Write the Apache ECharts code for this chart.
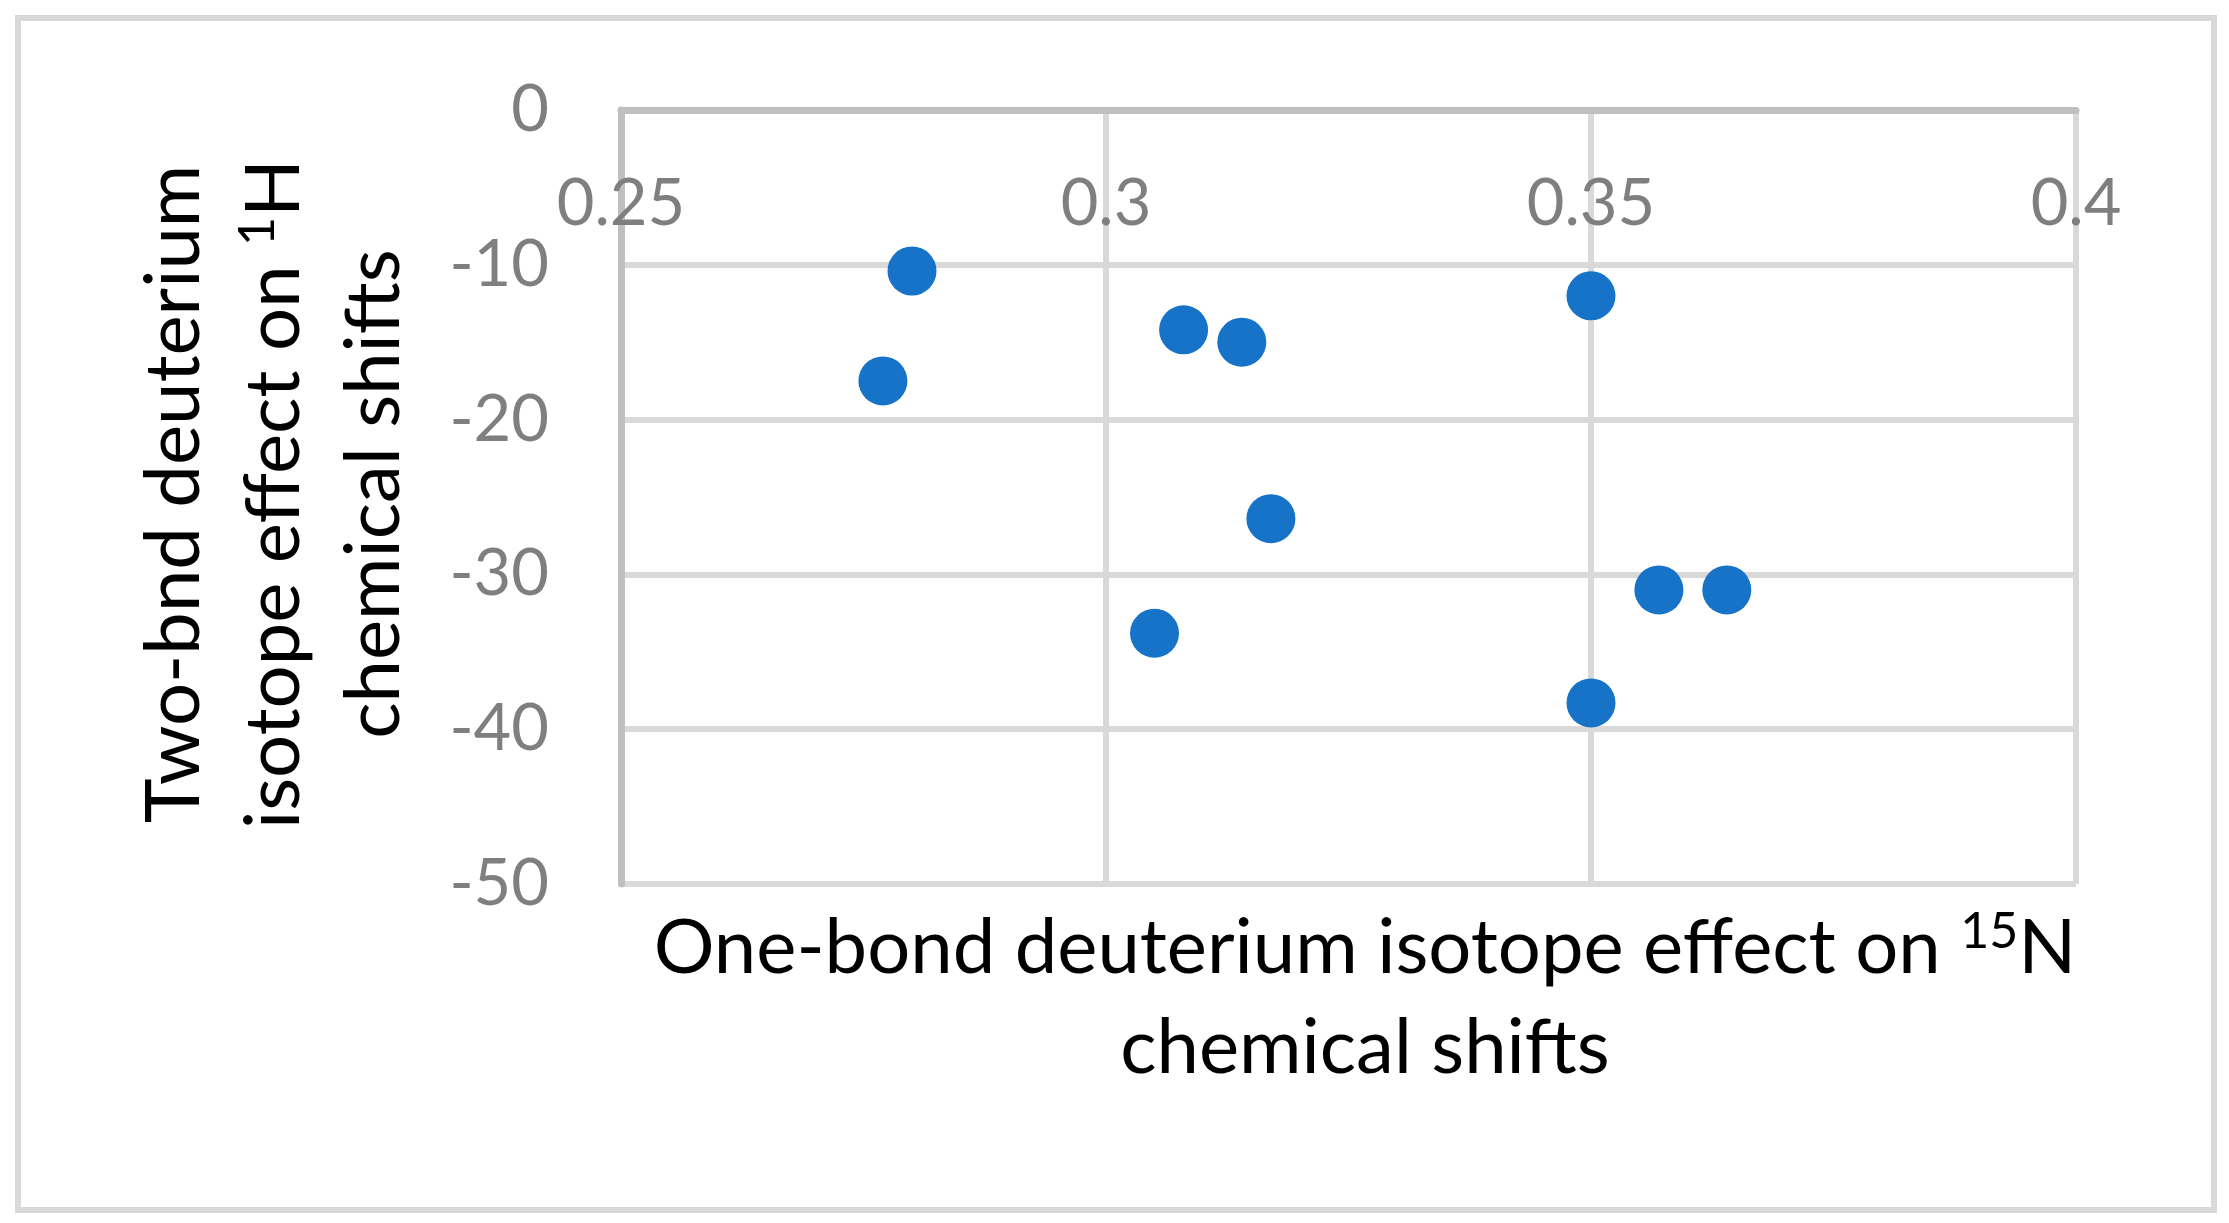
<!DOCTYPE html>
<html>
<head>
<meta charset="utf-8">
<script src="https://cdn.jsdelivr.net/npm/echarts@6/dist/echarts.min.js"></script>
<style>
  body { margin: 0; background: #fff; }
  #chart { width: 2229px; height: 1223px; }
</style>
</head>
<body>
<div id="chart"></div>
<script>
// One-bond 15N isotope effect (x) vs two-bond 1H isotope effect (y)
var xValues = [0.277, 0.280, 0.305, 0.308, 0.314, 0.317, 0.350, 0.350, 0.357, 0.364];
var yValues = [-17.5, -10.4, -33.8, -14.2, -15.0, -26.4, -12.0, -38.3, -31.0, -31.0];
var xTitle = ['One-bond deuterium isotope effect on ', '15', 'N', 'chemical shifts'];
var yTitle = ['Two-bnd deuterium', 'isotope effect on ', '1', 'H', 'chemical shifts'];

var points = [];
for (var i = 0; i < xValues.length; i++) {
    points.push([xValues[i], yValues[i]]);
}

var font = 'Lato';
var grey = '#7F7F7F';

function titleRich() {
    return {
        a: { fontFamily: font, fontSize: 76, lineHeight: 100, color: grey },
        s: { fontFamily: font, fontSize: 50, lineHeight: 50, color: grey,
             verticalAlign: 'top', padding: [9, 0, 0, 0] }
    };
}

var myChart = echarts.init(document.getElementById('chart'));

var option = {
    animation: false,
    backgroundColor: '#fff',
    grid: { left: 621, right: 153, top: 110, bottom: 339 },
    xAxis: {
        type: 'value',
        position: 'top',   // the x axis sits on y = 0, labels hang below it
        min: 0.25,
        max: 0.4,
        interval: 0.05,
        axisLine: { show: true, onZero: false, lineStyle: { color: '#BFBFBF', width: 7 } },
        axisTick: { show: false },
        axisLabel: { inside: true, color: grey, fontFamily: font, fontSize: 65, margin: 62 },
        splitLine: { show: true, lineStyle: { color: '#D9D9D9', width: 6 } }
    },
    yAxis: {
        type: 'value',
        min: -50,
        max: 0,
        interval: 10,
        axisLine: { show: true, onZero: false, lineStyle: { color: '#BFBFBF', width: 7 } },
        axisTick: { show: false },
        axisLabel: { color: grey, fontFamily: font, fontSize: 65, margin: 72 },
        splitLine: { show: true, lineStyle: { color: '#D9D9D9', width: 6 } }
    },
    series: [{
        type: 'scatter',
        data: points,
        symbol: 'circle',
        symbolSize: 49,
        itemStyle: { color: '#1773C8', opacity: 1 }
    }],
    graphic: [
        {   // chart border
            type: 'rect',
            shape: { x: 18, y: 18, width: 2196, height: 1192 },
            style: { fill: null, stroke: '#D9D9D9', lineWidth: 6 },
            silent: true
        },
        {   // x axis title
            type: 'text',
            x: 1365,
            y: 998,
            style: {
                text: '{a|' + xTitle[0] + '}{s|' + xTitle[1] + '}{a|' + xTitle[2] + '}\n{a|' + xTitle[3] + '}',
                align: 'center',
                verticalAlign: 'middle',
                rich: titleRich()
            }
        },
        {   // y axis title
            type: 'text',
            x: 274,
            y: 494,
            rotation: Math.PI / 2,
            style: {
                text: '{a|' + yTitle[0] + '}\n{a|' + yTitle[1] + '}{s|' + yTitle[2] + '}{a|' + yTitle[3] + '}\n{a|' + yTitle[4] + '}',
                align: 'center',
                verticalAlign: 'middle',
                rich: titleRich()
            }
        }
    ]
};

myChart.setOption(option);
</script>
</body>
</html>
